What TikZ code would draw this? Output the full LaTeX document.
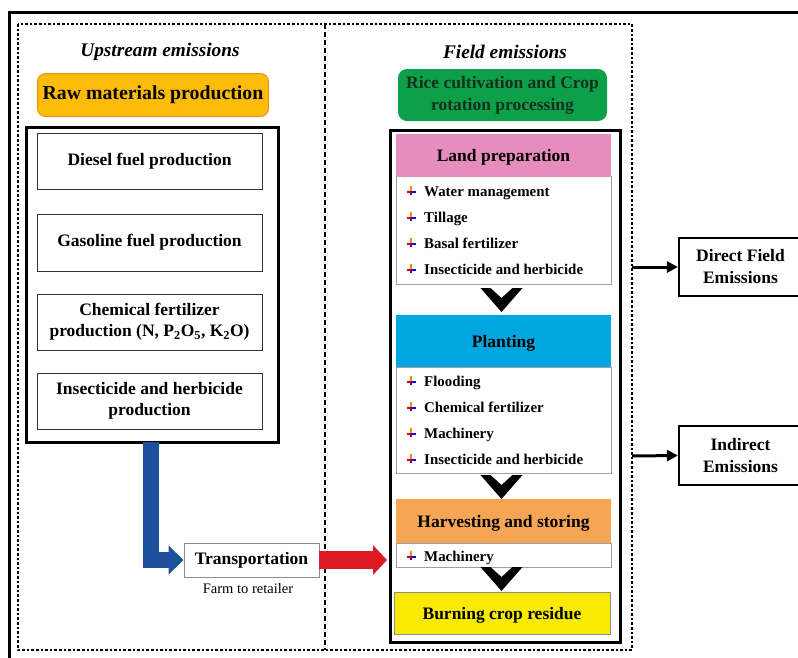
\documentclass[tikz,border=0pt]{standalone}
\usepackage{fontspec}
\setmainfont{Liberation Serif}
\usetikzlibrary{arrows.meta}
\definecolor{rawfill}{HTML}{FDBB0A}
\definecolor{rawdraw}{HTML}{E39A1C}
\definecolor{greenfill}{HTML}{0E9F4B}
\definecolor{greentext}{HTML}{12301C}
\definecolor{pinkfill}{HTML}{E78DBE}
\definecolor{bluefill}{HTML}{00A6DF}
\definecolor{harvfill}{HTML}{F6A554}
\definecolor{yellowfill}{HTML}{F8EA00}
\definecolor{bluearrow}{HTML}{1C4F9C}
\definecolor{redarrow}{HTML}{DD1A22}
\definecolor{listdraw}{HTML}{A0A0A0}
\tikzset{
  heading/.style={font=\bfseries\itshape\fontsize{19.3}{22}\selectfont},
  bigbox/.style={draw=black, line width=3pt, inner sep=0pt},
  upitem/.style={draw=black!80, line width=0.9pt, fill=white, minimum width=225pt, minimum height=56pt,
    align=center, inner sep=0pt, font=\bfseries\fontsize{17.5}{21}\selectfont},
  header/.style={minimum width=215pt, inner sep=0pt, align=center, text height=14pt, text depth=2pt,
    font=\bfseries\fontsize{17.5}{21}\selectfont},
  listbox/.style={draw=listdraw, line width=0.9pt, fill=white, minimum width=215pt, inner sep=0pt},
  item/.style={anchor=west, inner sep=0pt, text height=12pt, text depth=1.5pt,
    font=\bfseries\fontsize{14.9}{17}\selectfont},
  sidebox/.style={draw=black, line width=2.2pt, minimum width=123pt, minimum height=58pt, align=center,
    inner sep=0pt, font=\bfseries\fontsize{17.5}{22}\selectfont},
  sidearrow/.style={line width=3pt, -{Triangle[length=11pt,width=11pt]}},
  bul/.pic={
    \fill[orange!90!yellow] (-1.1,-5) rectangle (1.1,0);
    \fill[red!85!black] (-4.5,0) rectangle (0,2);
    \fill[blue!70!violet] (0,0) rectangle (4.5,2);
    \fill[violet!80!blue] (-1.1,2) rectangle (1.1,4);
  },
  chev/.pic={
    \fill[black] (-21,0) -- (-11,0) -- (0,10) -- (11,0) -- (21,0) -- (0,24) -- cycle;
  }
}
\begin{document}
\begin{tikzpicture}[x=1pt,y=-1pt]
\useasboundingbox (0,0) rectangle (798,657);
\clip (0,0) rectangle (798,657);

% outer frame (cropped)
\draw[line width=3pt] (9,700) -- (9,12) -- (820,12);
% dotted frame and dashed divider
\draw[line width=2.6pt, dash pattern=on 2.6pt off 2pt] (18,24) rectangle (632,650);
\draw[line width=2.2pt, dash pattern=on 5pt off 3pt] (325,24) -- (325,650);

% headings
\node[heading] (up) at (160,52) {Upstream emissions};
\node[heading] (field) at (505,52) {Field emissions};

% upstream
\node[draw=rawdraw, fill=rawfill, line width=1pt, rounded corners=8pt, minimum width=231pt, minimum height=43pt,
  inner sep=0pt, font=\bfseries\fontsize{19.8}{22}\selectfont] (raw) at (153,95) {Raw materials production};
\node[bigbox, minimum width=252pt, minimum height=315pt] (upbox) at (152,284.5) {};
\node[upitem] (diesel) at (149.5,161) {Diesel fuel production};
\node[upitem, minimum height=57pt] (gas) at (149.5,242.5) {Gasoline fuel production};
\node[upitem] (chem) at (149.5,322) {Chemical fertilizer\\production (N, P\textsubscript{2}O\textsubscript{5}, K\textsubscript{2}O)};
\node[upitem] (insect) at (149.5,401) {Insecticide and herbicide\\production};

% transportation
\node[draw=black!45, line width=0.9pt, fill=white, minimum width=135pt, minimum height=34pt, inner sep=0pt,
  font=\bfseries\fontsize{17.5}{21}\selectfont] (trans) at (251.5,560) {Transportation};
\node[inner sep=0pt, font=\fontsize{14.5}{17}\selectfont] (farm) at (248,589) {Farm to retailer};

\coordinate (bstart) at (151,442);
\draw[bluearrow, line width=16pt, line join=miter, -{Triangle[length=15pt,width=28pt]}] (bstart) |- (trans.west);
\coordinate (rend) at (387,560);
\draw[redarrow, line width=18pt, -{Triangle[length=14pt,width=29pt]}] (trans.east) -- (rend);

% field
\node[fill=greenfill, rounded corners=9pt, minimum width=209pt, minimum height=52pt, inner sep=0pt, align=center,
  text=greentext, font=\bfseries\fontsize{17.5}{22}\selectfont] (rice) at (502.5,95) {Rice cultivation and Crop\\rotation processing};
\node[bigbox, minimum width=230pt, minimum height=512pt] (fieldbox) at (505,386) {};

\node[listbox, minimum height=108pt] (landlist) at (503.5,230) {};
\node[header, fill=pinkfill, minimum height=43pt] (land) at (503.5,155) {Land preparation};
\node[item] (l1) at (424,191) {Water management};
\node[item] (l2) at (424,217) {Tillage};
\node[item] (l3) at (424,243) {Basal fertilizer};
\node[item] (l4) at (424,269) {Insecticide and herbicide};
\foreach \yy in {191,217,243,269} \pic at (411,\yy) {bul};
\pic at (501.5,288) {chev};

\node[listbox, minimum height=106pt] (plantlist) at (503.5,420) {};
\node[header, fill=bluefill, minimum height=52pt] (plant) at (503.5,341) {Planting};
\node[item] (p1) at (424,381) {Flooding};
\node[item] (p2) at (424,407) {Chemical fertilizer};
\node[item] (p3) at (424,433) {Machinery};
\node[item] (p4) at (424,459) {Insecticide and herbicide};
\foreach \yy in {381,407,433,459} \pic at (411,\yy) {bul};
\pic at (501.5,475) {chev};

\node[listbox, minimum height=24pt] (harvlist) at (503.5,555) {};
\node[header, fill=harvfill, minimum height=44pt] (harv) at (503.5,521) {Harvesting and storing};
\node[item] (h1) at (424,556) {Machinery};
\pic at (411,556) {bul};
\pic at (501.5,567) {chev};

\node[header, draw=black!45, line width=0.9pt, fill=yellowfill, minimum width=216pt, minimum height=42pt] (burn) at (502,613) {Burning crop residue};

% side boxes
\node[sidebox] (direct) at (740.5,267) {Direct Field\\Emissions};
\node[sidebox, minimum height=59pt] (indirect) at (740.5,455.5) {Indirect\\Emissions};
\coordinate (d0) at (632,267);
\coordinate (i0) at (632,456);
\draw[sidearrow] (d0) -- (direct.west);
\draw[sidearrow] (i0) -- (indirect.west);
\end{tikzpicture}
\end{document}
